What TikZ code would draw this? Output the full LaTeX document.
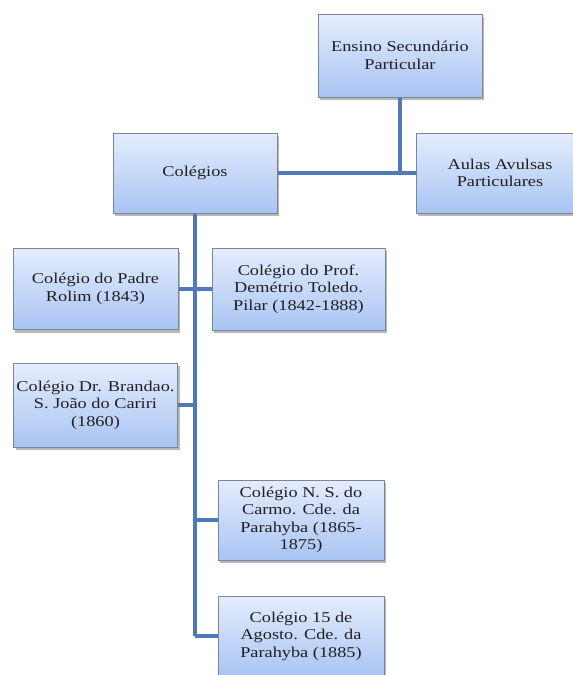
\documentclass[tikz,border=0pt]{standalone}
\usepackage{fontspec}
\setmainfont[FakeStretch=1.22]{Liberation Serif}
\usetikzlibrary{shadows,backgrounds}
\definecolor{boxtop}{HTML}{E4EDFD}
\definecolor{boxbot}{HTML}{A9C4F3}
\definecolor{boxline}{HTML}{76869F}
\definecolor{linkc}{HTML}{4F79B8}
\definecolor{txt}{HTML}{202020}
\tikzset{
  orgbox/.style={rectangle, draw=boxline, line width=0.9pt, top color=boxtop, bottom color=boxbot,
    inner sep=0pt, align=center, text=txt,
    font=\fontsize{15}{17.5}\selectfont,
    drop shadow={shadow xshift=2pt, shadow yshift=-3pt, fill=black!55, opacity=0.5}},
  link/.style={draw=linkc, line width=4.5pt}
}
\begin{document}
\begin{tikzpicture}[x=1pt,y=-1pt]
\useasboundingbox (0,0) rectangle (573,675);
\node[orgbox, minimum width=164pt, minimum height=83pt] (top) at (400,55.5) {Ensino Secundário\\Particular};
\node[orgbox, minimum width=168pt, minimum height=80pt] (aulas) at (500,173) {Aulas Avulsas\\Particulares};
\node[orgbox, minimum width=164pt, minimum height=80pt] (colegios) at (195,173) {Colégios};
\node[orgbox, minimum width=165pt, minimum height=81pt] (rolim) at (95.5,289) {Colégio do Padre\\Rolim (1843)};
\node[orgbox, minimum width=173pt, minimum height=82pt] (demetrio) at (298.5,289) {Colégio do Prof.\\Demétrio Toledo.\\Pilar (1842-1888)};
\node[orgbox, minimum width=164pt, minimum height=84pt] (brandao) at (95.5,405) {Colégio Dr. Brandao.\\S. João do Cariri\\(1860)};
\node[orgbox, minimum width=166pt, minimum height=80pt] (carmo) at (301,520) {Colégio N. S. do\\Carmo. Cde. da\\Parahyba (1865-\\1875)};
\node[orgbox, minimum width=166pt, minimum height=80pt] (agosto) at (301,636) {Colégio 15 de\\Agosto. Cde. da\\Parahyba (1885)};
\begin{scope}[on background layer]
\fill[white] (0,0) rectangle (573,675);
\draw[link] (top.south) -- (top.south |- colegios.east);
\draw[link] (colegios.east) -- (aulas.west);
\draw[link] (colegios.south) -- (colegios.south |- agosto.west);
\draw[link] (rolim.east) -- (demetrio.west);
\draw[link] (brandao.east) -- (colegios.south |- brandao.east);
\draw[link] (carmo.west) -- (colegios.south |- carmo.west);
\draw[link] (agosto.west) -- (colegios.south |- agosto.west);
\end{scope}
\end{tikzpicture}
\end{document}
